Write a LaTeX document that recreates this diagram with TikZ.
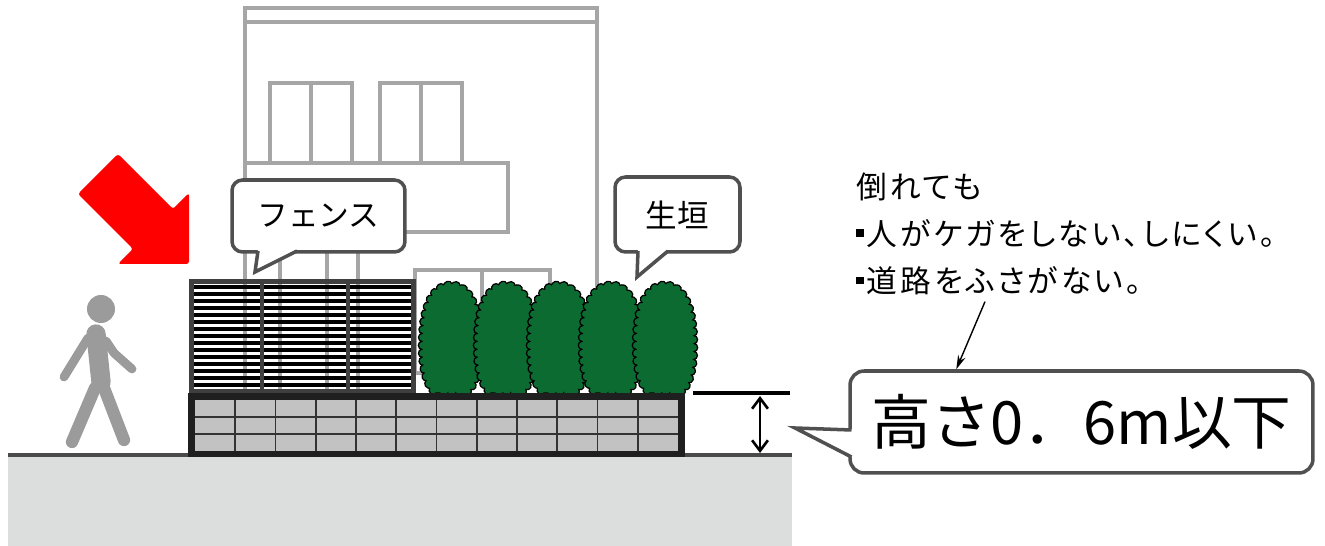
\documentclass[tikz,border=0pt]{standalone}
\usepackage{fontspec}
\setmainfont{Noto Sans CJK JP}
\newfontfamily\propfont[RawFeature=+palt,LetterSpace=10]{Noto Sans CJK JP}
\usepackage{tikz}
\usetikzlibrary{arrows.meta,decorations.pathmorphing,calc}

\definecolor{houseline}{HTML}{A6A6A6}
\definecolor{bubbleline}{HTML}{505050}
\definecolor{hedge}{HTML}{0B6B30}
\definecolor{blockgray}{HTML}{C2C2C2}
\definecolor{walkergray}{HTML}{9B9B9B}
\definecolor{groundgray}{HTML}{DCDEDD}
\definecolor{groundline}{HTML}{4A4A4A}
\definecolor{fenceframe}{HTML}{3F3F3F}

\newcommand{\sqbullet}{\raisebox{0.28em}{\rule{0.24em}{0.24em}}\hspace{0.1em}}

\begin{document}
\begin{tikzpicture}[x=0.02cm,y=-0.02cm,
  house/.style={draw=houseline,line width=2pt},
  slat/.style={draw=black,line width=2pt},
  post/.style={draw=fenceframe,line width=2.2pt},
  joint/.style={draw=black!80,line width=1.1pt},
  bush/.style={fill=hedge,draw=black,line width=0.7pt,decorate,
    decoration={bumps,segment length=9pt,amplitude=2pt}},
  bubble/.style={draw=bubbleline,fill=white,line width=2pt,rounded corners=6pt,inner sep=0pt},
  tail/.style={draw=bubbleline,line width=2pt},
  walker/.style={draw=walkergray,line cap=round,line join=round},
  dim/.style={{Straight Barb[length=6pt,width=9pt]}-{Straight Barb[length=6pt,width=9pt]},line width=1.5pt},
  pointer/.style={-{Stealth[length=8pt,width=4.5pt]},line width=0.8pt},
]
  \useasboundingbox (0,0) rectangle (1325,546);

  % ground
  \fill[groundgray] (8,457) rectangle (792,546);
  \draw[groundline,line width=2.3pt] (8,455) -- (792,455);

  % house behind
  \draw[house] (245,393) -- (245,8) -- (597,8) -- (597,393);
  \draw[house] (245,22) -- (597,22);
  \draw[house] (270,83) rectangle (352,163) (311,83) -- (311,163);
  \draw[house] (380,83) rectangle (462,163) (421,83) -- (421,163);
  \draw[house] (245,163) rectangle (508,232);
  \foreach \hx in {280,327,358}
    \draw[house] (\hx,232) -- (\hx,393);
  \draw[house] (415,270) rectangle (550,373) (482,270) -- (482,373);

  % fence
  \foreach \i in {0,...,14}
    \draw[slat] (194,{287+7*\i}) -- (412,{287+7*\i});
  \draw[post] (262,282) -- (262,391) (348,282) -- (348,391);
  \draw[fenceframe,line width=3pt] (191.5,281.5) rectangle (413.5,391.5);

  % hedge
  \foreach \cx in {451,506,559,611,665}
    \path[bush] (\cx-15,393) .. controls (\cx-26,385) and (\cx-30,365) .. (\cx-29,338)
      .. controls (\cx-28,303) and (\cx-17,285) .. (\cx,285)
      .. controls (\cx+17,285) and (\cx+28,303) .. (\cx+29,338)
      .. controls (\cx+30,365) and (\cx+26,385) .. (\cx+15,393) -- cycle;

  % block wall
  \fill[black!88] (188,393) rectangle (685,457);
  \fill[blockgray] (195,400) rectangle (678,451);
  \draw[joint] (195,417) -- (678,417) (195,434) -- (678,434);
  \foreach \k in {1,...,11}
    \draw[joint] ({195+40.25*\k},400) -- ({195+40.25*\k},451);

  % callouts
  \node[bubble,minimum width=3.46cm,minimum height=1.44cm,font=\fontsize{17.5}{20}\selectfont]
    (fencetag) at (318.5,216) {フェンス};
  \fill[white] (258,249) -- (255,272) -- (297,249) -- cycle;
  \draw[tail] (258,251) -- (255,272) -- (297,251);

  \node[bubble,minimum width=2.5cm,minimum height=1.5cm,font=\fontsize{18}{20}\selectfont]
    (hedgetag) at (677.5,214.5) {生垣};
  \fill[white] (638,249) -- (637,277) -- (668,249) -- cycle;
  \draw[tail] (638,251) -- (637,277) -- (668,251);

  \node[bubble,rounded corners=8pt,minimum width=9.26cm,minimum height=2.04cm,
    font=\fontsize{34}{40}\selectfont] (limitbox) at (1081.5,422) {高さ0．6m以下};
  \fill[white] (853,429) -- (795,428) -- (853,458) -- cycle;
  \draw[tail] (851.5,430) -- (795,428) -- (851.5,457);

  % red arrow
  \fill[red,rounded corners=1.5pt] (118,154) -- (173,209) -- (189,193) -- (189,264)
    -- (118,264) -- (133,249) -- (78,194) -- cycle;

  % walker
  \fill[walkergray] (101,309) circle[radius=14];
  \draw[walker,line width=11pt] (96,334) -- (101,382);
  \draw[walker,line width=5pt] (88,338) -- (64,377);
  \draw[walker,line width=5pt] (106,341) -- (114,353) -- (132,369);
  \draw[walker,line width=7pt] (95,388) -- (72,442);
  \draw[walker,line width=7pt] (104,388) -- (124,440);

  % height mark
  \draw[line width=2pt] (693,393) -- (790,393);
  \coordinate (dimtop) at (760,396);
  \coordinate (dimbot) at (760,453);
  \draw[dim] (dimtop) -- (dimbot);

  % note
  \node[anchor=north west,align=left,inner sep=0pt,font=\propfont\fontsize{17.5}{27}\selectfont]
    (note) at (856,172) {倒れても\\\sqbullet 人がケガをしない、しにくい。\\\sqbullet 道路をふさがない。};
  \draw[pointer] ($(note.south west)+(129,6)$) -- ($(limitbox.north west)+(108,0)$);
\end{tikzpicture}
\end{document}
